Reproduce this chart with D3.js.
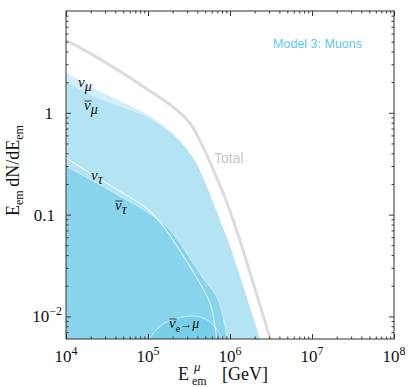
<!DOCTYPE html>
<html>
<head>
<meta charset="utf-8">
<script src="https://cdn.jsdelivr.net/npm/d3@7"></script>
<style>
  body { margin: 0; background: #fff; }
  .serif { font-family: "Liberation Serif", "Times New Roman", serif; }
  .sans { font-family: "Liberation Sans", Arial, sans-serif; }
</style>
</head>
<body>
<div id="chart-area"></div>
<script>
// spectra (energy in GeV, E dN/dE)
const totalE = [1e4, 2e4, 5e4, 1e5, 2e5, 3.25e5, 4.7e5, 6.2e5, 9.2e5, 1.32e6, 2e6, 3.1e6];
const totalV = [5.16, 3.81, 2.43, 1.68, 1.15, 0.79, 0.46, 0.28, 0.13, 0.056, 0.019, 0.006];

const numuE = [1e4, 2e4, 5e4, 1e5, 2e5, 3.5e5, 5e5, 7.5e5, 1e6, 1.3e6, 2e6, 2.4e6];
const numuV = [2.51, 1.80, 1.26, 0.95, 0.63, 0.37, 0.205, 0.09, 0.049, 0.026, 0.0088, 0.0055];
const numubarV = [2.01, 1.50, 1.12, 0.89, 0.61, 0.365, 0.203, 0.089, 0.0485, 0.0258, 0.0087, 0.0054];

const nutauE = [1e4, 2e4, 5e4, 1e5, 1.52e5, 2.5e5, 3.5e5, 5.7e5, 6.4e5, 7e5];
const nutauV = [0.36, 0.254, 0.162, 0.113, 0.078, 0.043, 0.028, 0.0136, 0.009, 0.0055];

const nutaubarE = [1e4, 2e4, 5e4, 1e5, 1.85e5, 3.5e5, 5e5, 6.9e5, 8.2e5, 9.2e5, 1e6];
const nutaubarV = [0.30, 0.22, 0.145, 0.105, 0.071, 0.034, 0.022, 0.0156, 0.010, 0.006, 0.004];

const nuebarE = [9.5e4, 1.4e5, 2e5, 3.5e5, 5.2e5, 6.9e5, 8e5];
const nuebarV = [0.0055, 0.008, 0.0093, 0.0101, 0.0093, 0.0075, 0.0060];

const xMajor = [1e4, 1e5, 1e6, 1e7, 1e8];
const xLabels = ['4', '5', '6', '7', '8'];
const yMajor = [0.01, 0.1, 1];

const margin = { top: 11, right: 17, bottom: 48, left: 66 };
const width = 411 - margin.left - margin.right;
const height = 387 - margin.top - margin.bottom;

const svg = d3.select('#chart-area')
  .append('svg')
    .attr('width', 411)
    .attr('height', 387);

const g = svg.append('g')
  .attr('transform', 'translate(' + margin.left + ',' + margin.top + ')');

const x = d3.scaleLog().domain([1e4, 1e8]).range([0, width]);
const y = d3.scaleLog().domain([0.006, 10]).range([height, 0]);

svg.append('defs').append('clipPath').attr('id', 'plot-clip')
  .append('rect').attr('width', width).attr('height', height);

const plot = g.append('g').attr('clip-path', 'url(#plot-clip)');

const pts = (es, vs) => es.map((e, i) => ({ e: e, v: vs[i] }));
const curve = d3.curveCatmullRom.alpha(0.5);

const area = d3.area()
  .x(d => x(d.e))
  .y0(height)
  .y1(d => y(d.v))
  .curve(curve);

const line = d3.line()
  .x(d => x(d.e))
  .y(d => y(d.v))
  .curve(curve);

plot.append('path').datum(pts(numuE, numuV))
  .attr('d', area).attr('fill', '#d2eff9');
plot.append('path').datum(pts(numuE, numubarV))
  .attr('d', area).attr('fill', '#b4e4f3');
plot.append('path').datum(pts(nutaubarE, nutaubarV))
  .attr('d', area).attr('fill', '#87d4ec');
plot.append('path').datum(pts(nuebarE, nuebarV))
  .attr('d', area).attr('fill', '#78cfe9');

plot.append('path').datum(pts(nutaubarE, nutaubarV))
  .attr('d', line).attr('fill', 'none')
  .attr('stroke', '#fff').attr('stroke-opacity', 0.45).attr('stroke-width', 1);
plot.append('path').datum(pts(nutauE, nutauV))
  .attr('d', line).attr('fill', 'none')
  .attr('stroke', '#fff').attr('stroke-opacity', 0.7).attr('stroke-width', 1.1);
plot.append('path').datum(pts(nuebarE, nuebarV))
  .attr('d', line).attr('fill', 'none')
  .attr('stroke', '#fff').attr('stroke-opacity', 0.6).attr('stroke-width', 1);

plot.append('path').datum(pts(totalE, totalV))
  .attr('d', line).attr('fill', 'none')
  .attr('stroke', '#dcdcdc').attr('stroke-width', 3);

// axes: ticks point inward on all four sides
const xMinor = [];
for (let d = 4; d < 8; d++) for (let k = 2; k < 10; k++) xMinor.push(k * Math.pow(10, d));
const yMinor = [];
for (let d = -3; d < 1; d++) for (let k = 2; k < 10; k++) {
  const v = k * Math.pow(10, d);
  if (v > 0.006 && v < 10) yMinor.push(v);
}

const axisStyle = sel => {
  sel.select('.domain').remove();
  sel.selectAll('line').attr('stroke', '#333');
};

g.append('g').attr('transform', 'translate(0,' + height + ')')
  .call(d3.axisBottom(x).tickValues(xMajor).tickSize(-5).tickFormat('')).call(axisStyle);
g.append('g').attr('transform', 'translate(0,' + height + ')')
  .call(d3.axisBottom(x).tickValues(xMinor).tickSize(-2.5).tickFormat('')).call(axisStyle);
g.append('g')
  .call(d3.axisTop(x).tickValues(xMajor).tickSize(-5).tickFormat('')).call(axisStyle);
g.append('g')
  .call(d3.axisTop(x).tickValues(xMinor).tickSize(-2.5).tickFormat('')).call(axisStyle);
g.append('g')
  .call(d3.axisLeft(y).tickValues(yMajor).tickSize(-5).tickFormat('')).call(axisStyle);
g.append('g')
  .call(d3.axisLeft(y).tickValues(yMinor).tickSize(-2.5).tickFormat('')).call(axisStyle);
g.append('g').attr('transform', 'translate(' + width + ',0)')
  .call(d3.axisRight(y).tickValues(yMajor).tickSize(-5).tickFormat('')).call(axisStyle);
g.append('g').attr('transform', 'translate(' + width + ',0)')
  .call(d3.axisRight(y).tickValues(yMinor).tickSize(-2.5).tickFormat('')).call(axisStyle);

g.append('rect')
  .attr('width', width).attr('height', height)
  .attr('fill', 'none').attr('stroke', '#333').attr('stroke-width', 1);

// tick labels
const xt = g.selectAll('.xlab').data(xMajor).enter()
  .append('text')
    .attr('class', 'serif')
    .attr('x', d => x(d))
    .attr('y', height + 23)
    .attr('text-anchor', 'middle')
    .attr('font-size', 17)
    .attr('fill', '#111');
xt.append('tspan').text('10');
xt.append('tspan').attr('dy', -7).attr('font-size', 12).text((d, i) => xLabels[i]);

const yt = g.selectAll('.ylab').data(yMajor).enter()
  .append('text')
    .attr('class', 'serif')
    .attr('x', -9)
    .attr('y', d => y(d) + 6)
    .attr('text-anchor', 'end')
    .attr('font-size', 17)
    .attr('fill', '#111');
yt.filter(d => d === 1).attr('x', -13).text('1');
yt.filter(d => d === 0.1).attr('x', -11).text('0.1');
const yt2 = yt.filter(d => d === 0.01).attr('x', -4);
yt2.append('tspan').text('10');
yt2.append('tspan').attr('dy', -7).attr('font-size', 12).text('\u22122');

// axis titles
const xTitle = svg.append('g').attr('class', 'serif').attr('fill', '#111');
xTitle.append('text').attr('x', 178).attr('y', 380).attr('font-size', 18).text('E');
xTitle.append('text').attr('x', 194).attr('y', 371).attr('font-size', 13)
  .attr('font-style', 'italic').text('\u03bc');
xTitle.append('text').attr('x', 192).attr('y', 385).attr('font-size', 12).text('em');
xTitle.append('text').attr('x', 222).attr('y', 380).attr('font-size', 18).text('[GeV]');

const yTitle = svg.append('text').attr('class', 'serif')
  .attr('transform', 'translate(19,216) rotate(-90)')
  .attr('font-size', 18).attr('fill', '#111');
yTitle.append('tspan').text('E');
yTitle.append('tspan').attr('dy', 4).attr('font-size', 12).text('em');
yTitle.append('tspan').attr('dy', -4).text('\u2009dN/dE');
yTitle.append('tspan').attr('dy', 4).attr('font-size', 12).text('em');

// in-plot labels
svg.append('text').attr('class', 'sans')
  .attr('x', 362).attr('y', 48).attr('text-anchor', 'end')
  .attr('font-size', 12.5).attr('fill', '#5cc8ea').text('Model 3: Muons');

svg.append('text').attr('class', 'sans')
  .attr('x', 214).attr('y', 163)
  .attr('font-size', 14).attr('fill', '#c8c8c8').text('Total');

const nuLabel = (px, py, bar, sub, extra) => {
  const t = svg.append('text').attr('class', 'serif')
    .attr('x', px).attr('y', py).attr('font-size', 15).attr('fill', '#111');
  t.append('tspan').attr('font-style', 'italic').text('\u03bd');
  t.append('tspan').attr('dy', 4)
    .attr('font-size', sub === 'e' ? 10 : 14)
    .attr('font-style', sub === 'e' ? 'normal' : 'italic').text(sub);
  if (extra) {
    t.append('tspan').attr('dy', -4).attr('font-size', 12).text('\u2192');
    t.append('tspan').attr('font-style', 'italic').attr('font-size', 14).text(extra);
  }
  if (bar) {
    svg.append('line')
      .attr('x1', px + 0.5).attr('x2', px + 7.5)
      .attr('y1', py - 9).attr('y2', py - 9)
      .attr('stroke', '#111').attr('stroke-width', 0.8);
  }
};
nuLabel(78, 87, false, '\u03bc');
nuLabel(84, 110, true, '\u03bc');
nuLabel(91, 180, false, '\u03c4');
nuLabel(115, 210, true, '\u03c4');
nuLabel(169, 328, true, 'e', '\u03bc');
</script>
</body>
</html>
